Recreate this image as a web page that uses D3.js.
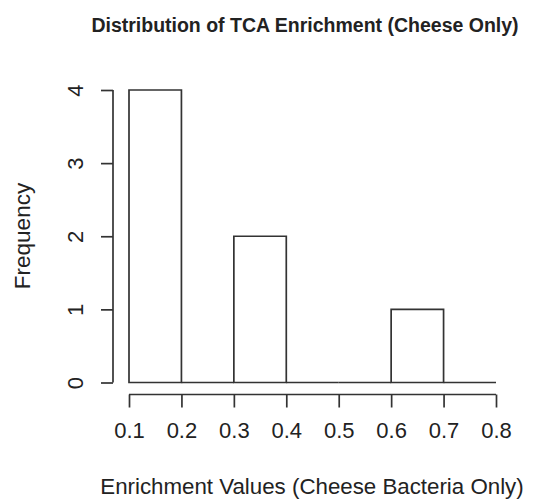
<!DOCTYPE html>
<html>
<head>
<meta charset="utf-8">
<script src="https://cdn.jsdelivr.net/npm/d3@7"></script>
<style>
  body { margin: 0; background: #fff; }
  svg text { font-family: "Liberation Sans", Arial, sans-serif; fill: #222; }
</style>
</head>
<body>
<div id="c_plot"></div>
<script>
// histogram breaks and counts
var breaks = [0.1, 0.2, 0.3, 0.4, 0.5, 0.6, 0.7, 0.8];
var counts = [4, 0, 2, 0, 0, 1, 0];
var xTicks = [0.1, 0.2, 0.3, 0.4, 0.5, 0.6, 0.7, 0.8];
var yTicks = [0, 1, 2, 3, 4];

var title = "Distribution of TCA Enrichment (Cheese Only)";
var xLabel = "Enrichment Values (Cheese Bacteria Only)";
var yLabel = "Frequency";

var width = 534, height = 499;
var pLeft = 129, pRight = 496, pTop = 90, pBottom = 382.5;

var svg = d3.select("#c_plot")
  .append("svg")
  .attr("width", width)
  .attr("height", height);

var x = d3.scaleLinear().domain([0.1, 0.8]).range([pLeft, pRight]);
var y = d3.scaleLinear().domain([0, 4]).range([pBottom, pTop]);

var bins = [];
for(var i=0; i<counts.length; i++)
  bins.push({x0: breaks[i], x1: breaks[i+1], n: counts[i]});

// bars (paths, so empty bins still draw as a line on the baseline)
svg.append("g")
  .selectAll("path")
  .data(bins)
  .enter()
  .append("path")
  .attr("d", d => "M" + x(d.x0) + "," + y(0) + "V" + y(d.n) + "H" + x(d.x1) + "V" + y(0) + "Z")
  .attr("fill", "none")
  .attr("stroke", "#333")
  .attr("stroke-width", 1.7);

// x axis, offset below the bars like R
var gx = svg.append("g")
  .attr("transform", "translate(0," + (pBottom + 12) + ")")
  .call(d3.axisBottom(x).tickValues(xTicks).tickFormat(d3.format(".1f")).tickSize(13).tickPadding(15));

// y axis, offset left
var gy = svg.append("g")
  .attr("transform", "translate(" + (pLeft - 16) + ",0)")
  .call(d3.axisLeft(y).tickValues(yTicks).tickFormat(d3.format("d")).tickSize(12).tickPadding(10));

gx.select(".domain").attr("d", "M" + pLeft + ",0H" + pRight);
gy.select(".domain").attr("d", "M0," + pBottom + "V" + pTop);
[gx, gy].forEach(function(g){
  g.select(".domain").attr("stroke", "#333").attr("stroke-width", 1.7);
  g.selectAll(".tick line").attr("stroke", "#333").attr("stroke-width", 1.7);
  g.selectAll(".tick text").attr("font-size", 22).attr("fill", "#222");
});

// rotated y tick labels
gy.selectAll(".tick text")
  .attr("x", null)
  .attr("text-anchor", "middle")
  .attr("transform", "translate(-38,0) rotate(-90)")
  .attr("y", 0).attr("dy", "0.35em");
gx.selectAll(".tick text").attr("dy", "0.71em");

// title and axis labels
svg.append("text")
  .attr("x", 305)
  .attr("y", 32)
  .attr("text-anchor", "middle")
  .attr("font-weight", "bold")
  .attr("font-size", 19.5)
  .text(title);

svg.append("text")
  .attr("x", 312)
  .attr("y", 494)
  .attr("text-anchor", "middle")
  .attr("font-size", 22.3)
  .text(xLabel);

svg.append("text")
  .attr("transform", "translate(30,236) rotate(-90)")
  .attr("text-anchor", "middle")
  .attr("font-size", 22.5)
  .text(yLabel);
</script>
</body>
</html>
